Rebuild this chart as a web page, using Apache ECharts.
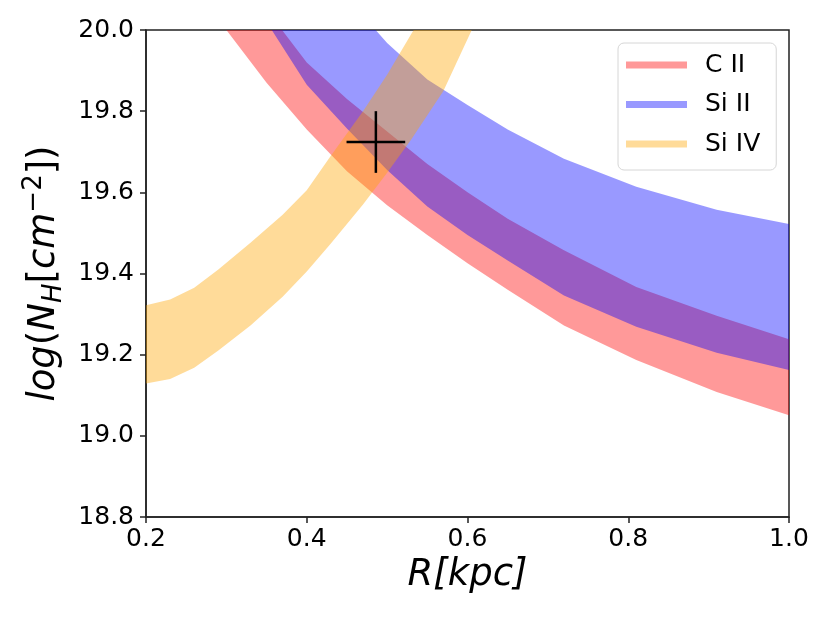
<!DOCTYPE html>
<html>
<head>
<meta charset="utf-8">
<title>log N_H vs R</title>
<script src="https://cdn.jsdelivr.net/npm/echarts@6/dist/echarts.min.js"></script>
<style>
html, body { margin: 0; height: 100%; background: #fff; }
#main { width: 830px; height: 623px; }
</style>
</head>
<body>
<div id="main"></div>
<script>
// C II and Si II bands share one R grid (kpc)
var rGrid    = [0.20, 0.25, 0.30, 0.35, 0.40, 0.45, 0.50, 0.55, 0.60, 0.65, 0.72, 0.81, 0.91, 1.00];
var cIILow   = [20.40, 20.18, 20.00, 19.87, 19.755, 19.652, 19.568, 19.495, 19.425, 19.36, 19.272, 19.187, 19.108, 19.051];
var cIIHigh  = [20.62, 20.42, 20.24, 20.05, 19.92, 19.83, 19.75, 19.67, 19.60, 19.535, 19.457, 19.367, 19.296, 19.238];
var siIILow  = [20.55, 20.35, 20.16, 20.02, 19.865, 19.757, 19.655, 19.565, 19.495, 19.432, 19.346, 19.269, 19.205, 19.162];
var siIIHigh = [21.10, 20.85, 20.60, 20.40, 20.22, 20.08, 19.968, 19.878, 19.815, 19.755, 19.683, 19.614, 19.557, 19.522];

// Si IV band has its own grid
var rSiIV    = [0.20, 0.23, 0.26, 0.29, 0.33, 0.37, 0.40, 0.43, 0.47, 0.50, 0.53, 0.57, 0.61, 0.65];
var siIVLow  = [19.129, 19.14, 19.168, 19.21, 19.272, 19.343, 19.405, 19.474, 19.57, 19.648, 19.73, 19.85, 20.02, 20.18];
var siIVHigh = [19.322, 19.336, 19.365, 19.41, 19.476, 19.545, 19.605, 19.69, 19.80, 19.89, 19.99, 20.12, 20.25, 20.38];

// best point: R, log N, and their errors
var bestPoint = [0.486, 19.724, 0.0365, 0.076];

var FONT = 'DejaVu Sans';

function bandItem(xs, lo, hi) {
    return function (params, api) {
        var pts = [];
        for (var i = 0; i < xs.length; i++) pts.push(api.coord([xs[i], lo[i]]));
        for (var j = xs.length - 1; j >= 0; j--) pts.push(api.coord([xs[j], hi[j]]));
        return {
            type: 'polygon',
            shape: { points: pts },
            style: { fill: api.visual('color') }
        };
    };
}

function bandSeries(name, color, xs, lo, hi) {
    return {
        name: name,
        type: 'custom',
        clip: true,
        itemStyle: { color: color },
        data: [[xs[0], lo[0]]],
        renderItem: bandItem(xs, lo, hi)
    };
}

var chart = echarts.init(document.getElementById('main'));

chart.setOption({
    animation: false,
    backgroundColor: '#fff',
    grid: {
        left: 146, right: 41, top: 30, bottom: 106,
        show: true, borderColor: '#222', borderWidth: 1.5, backgroundColor: '#fff'
    },
    legend: {
        orient: 'vertical',
        left: 618, top: 43,
        icon: 'rect',
        itemWidth: 61, itemHeight: 7,
        itemGap: 13.5,
        padding: [9, 16, 13, 8],
        borderColor: '#d6d6d6', borderWidth: 1, borderRadius: 6,
        backgroundColor: 'rgba(255,255,255,0.8)',
        textStyle: { fontFamily: FONT, fontSize: 25, color: '#000', lineHeight: 26, padding: [0, 0, 0, 13] },
        data: ['C II', 'Si II', 'Si IV']
    },
    xAxis: {
        type: 'value', min: 0.2, max: 1.0, interval: 0.2,
        name: 'R[kpc]', nameLocation: 'middle', nameGap: 40,
        nameTextStyle: { fontFamily: FONT, fontSize: 37, fontStyle: 'italic', color: '#000' },
        axisLine: { lineStyle: { color: '#222', width: 1.5 } },
        axisTick: { inside: false, length: 6, lineStyle: { color: '#222', width: 1.5 } },
        axisLabel: { fontFamily: FONT, fontSize: 25, color: '#000', margin: 10,
            formatter: function (v) { return v.toFixed(1); } },
        splitLine: { show: false }
    },
    yAxis: {
        type: 'value', min: 18.8, max: 20.0, interval: 0.2,
        name: '{i|log}{n|(}{i|N}{sub|H}{n|[}{i|cm}{sup|\u22122}{n|])}',
        nameLocation: 'middle', nameGap: 79,
        nameTextStyle: {
            color: '#000',
            rich: {
                i: { fontFamily: FONT, fontSize: 37, fontStyle: 'italic', lineHeight: 46 },
                n: { fontFamily: FONT, fontSize: 37, lineHeight: 46 },
                sub: { fontFamily: FONT, fontSize: 26, fontStyle: 'italic', lineHeight: 26, verticalAlign: 'bottom' },
                sup: { fontFamily: FONT, fontSize: 26, lineHeight: 26, verticalAlign: 'top' }
            }
        },
        axisLine: { lineStyle: { color: '#222', width: 1.5 } },
        axisTick: { inside: false, length: 6, lineStyle: { color: '#222', width: 1.5 } },
        axisLabel: { fontFamily: FONT, fontSize: 25, color: '#000', margin: 12,
            formatter: function (v) { return v.toFixed(1); } },
        splitLine: { show: false }
    },
    series: [
        bandSeries('C II', 'rgba(255,0,0,0.4)', rGrid, cIILow, cIIHigh),
        bandSeries('Si II', 'rgba(0,0,255,0.4)', rGrid, siIILow, siIIHigh),
        bandSeries('Si IV', 'rgba(255,165,0,0.4)', rSiIV, siIVLow, siIVHigh),
        {
            name: 'best',
            type: 'custom',
            data: [bestPoint],
            renderItem: function (params, api) {
                var x = api.value(0), y = api.value(1), dx = api.value(2), dy = api.value(3);
                var l = api.coord([x - dx, y]), r = api.coord([x + dx, y]);
                var t = api.coord([x, y + dy]), b = api.coord([x, y - dy]);
                var st = { stroke: '#000', lineWidth: 2.5 };
                return {
                    type: 'group',
                    children: [
                        { type: 'line', shape: { x1: l[0], y1: l[1], x2: r[0], y2: r[1] }, style: st },
                        { type: 'line', shape: { x1: t[0], y1: t[1], x2: b[0], y2: b[1] }, style: st }
                    ]
                };
            }
        }
    ]
});
</script>
</body>
</html>
